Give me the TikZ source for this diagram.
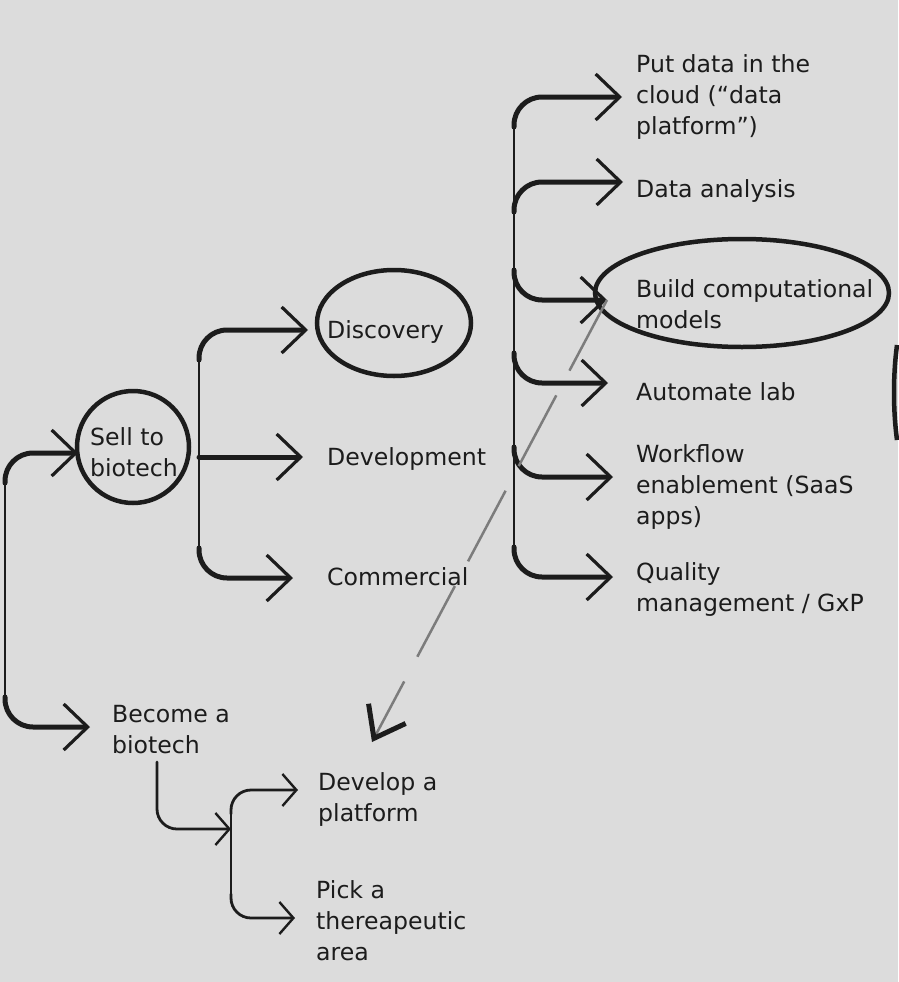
\documentclass[tikz,border=0pt]{standalone}
\usepackage{fontspec}
\setmainfont{DejaVu Sans}
\usetikzlibrary{arrows.meta,calc}
\definecolor{paper}{RGB}{220,220,220}
\definecolor{ink}{RGB}{28,28,28}
\tikzset{
  txt/.style={anchor=north west, inner sep=0pt, align=left, text=ink, font=\fontsize{23.6}{31}\selectfont},
  ring/.style={draw=ink, line width=4.5pt},
  trunk/.style={draw=ink, line width=2pt, line cap=round},
  twig/.style={draw=ink, line width=5pt, line cap=round, rounded corners=28pt,
    -{Straight Barb[length=24pt,width=46pt,line width=3.2pt]}},
  sprig/.style={draw=ink, line width=2.8pt, line cap=round, rounded corners=20pt,
    -{Straight Barb[length=14pt,width=32pt,line width=2.4pt]}},
  dropline/.style={draw=ink!50!paper, line width=2.5pt, dash pattern=on 80pt off 28pt,
    -{Straight Barb[length=28pt,width=42pt,line width=5pt,color=ink]}}
}
\begin{document}
\begin{tikzpicture}[x=1pt,y=-1pt]
  \fill[paper] (0,0) rectangle (898,982);
  \useasboundingbox (0,0) rectangle (898,982);

  % left part
  \node[txt] (sell) at (90,427) {Sell to\\biotech};
  \node[txt] (become) at (112,705) {Become a\\biotech};
  \node[txt] (disc) at (327,320) {Discovery};
  \node[txt] (dev) at (327,447) {Development};
  \node[txt] (comm) at (327,567) {Commercial};
  \node[txt] (plat) at (318,772) {Develop a\\platform};
  \node[txt] (pick) at (316,880) {Pick a\\thereapeutic\\area};

  % right column
  \node[txt] (cloud) at (636,54) {Put data in the\\cloud (“data\\platform”)};
  \node[txt] (data) at (636,179) {Data analysis};
  \node[txt] (build) at (636,279) {Build computational\\models};
  \node[txt] (auto) at (636,382) {Automate lab};
  \node[txt] (work) at (636,444) {Workflow\\enablement (SaaS\\apps)};
  \node[txt] (qual) at (636,562) {Quality\\management / GxP};

  % arrow tips
  \coordinate (tsell) at ([shift={(-12,26)}]sell.north west);
  \coordinate (tbecome) at ([shift={(-22,22)}]become.north west);
  \coordinate (tdisc) at ([shift={(-19,10)}]disc.north west);
  \coordinate (tdev) at ([shift={(-24,10)}]dev.north west);
  \coordinate (tcomm) at ([shift={(-34,11)}]comm.north west);
  \coordinate (tplat) at ([shift={(-20,18)}]plat.north west);
  \coordinate (tpick) at ([shift={(-21,38)}]pick.north west);
  \coordinate (tcloud) at ([shift={(-14,43)}]cloud.north west);
  \coordinate (tdata) at ([shift={(-13,3)}]data.north west);
  \coordinate (tbuild) at ([shift={(-29,21)}]build.north west);
  \coordinate (tauto) at ([shift={(-28,1)}]auto.north west);
  \coordinate (twork) at ([shift={(-23,33)}]work.north west);
  \coordinate (tqual) at ([shift={(-23,15)}]qual.north west);
  \coordinate (tdrop) at ([shift={(54,-30)}]plat.north west);

  % forks
  \coordinate (root) at (5,590);
  \coordinate (sfork) at (199,457);
  \coordinate (hub) at (514,330);
  \coordinate (pfork) at (231,829);

  % circled items
  \draw[ring] ([shift={(43,20)}]sell.north west) ellipse [x radius=56, y radius=56];
  \draw[ring] ([shift={(67,3)}]disc.north west) ellipse [x radius=77, y radius=53];
  \draw[ring] ([shift={(106,14)}]build.north west) ellipse [x radius=147, y radius=54];
  \draw[ring] (897,345) .. controls (893,375) and (893,410) .. (897,440);

  % root fork
  \draw[trunk] ($(root |- tsell)+(0,30)$) -- ($(root |- tbecome)+(0,-30)$);
  \draw[twig] (root |- tsell) ++(0,30) |- (tsell);
  \draw[twig] (root |- tbecome) ++(0,-30) |- (tbecome);

  % sell fork
  \draw[trunk] ($(sfork |- tdisc)+(0,30)$) -- ($(sfork |- tcomm)+(0,-30)$);
  \draw[twig] (sfork |- tdisc) ++(0,30) |- (tdisc);
  \draw[twig] (sfork) -- (tdev);
  \draw[twig] (sfork |- tcomm) ++(0,-30) |- (tcomm);

  % hub fork
  \draw[trunk] ($(hub |- tcloud)+(0,30)$) -- ($(hub |- tqual)+(0,-30)$);
  \foreach \t/\s in {tcloud/1, tdata/1, tbuild/-1, tauto/-1, twork/-1, tqual/-1}
    \draw[twig] (hub |- \t) ++(0,30*\s) |- (\t);

  % biotech fork
  \draw[sprig] ([shift={(45,8)}]become.south west) |- (pfork);
  \draw[trunk] ($(pfork |- tplat)+(0,24)$) -- ($(pfork |- tpick)+(0,-24)$);
  \draw[sprig] (pfork |- tplat) ++(0,24) |- (tplat);
  \draw[sprig] (pfork |- tpick) ++(0,-24) |- (tpick);

  % back link
  \draw[dropline] (tbuild) -- (tdrop);
\end{tikzpicture}
\end{document}
